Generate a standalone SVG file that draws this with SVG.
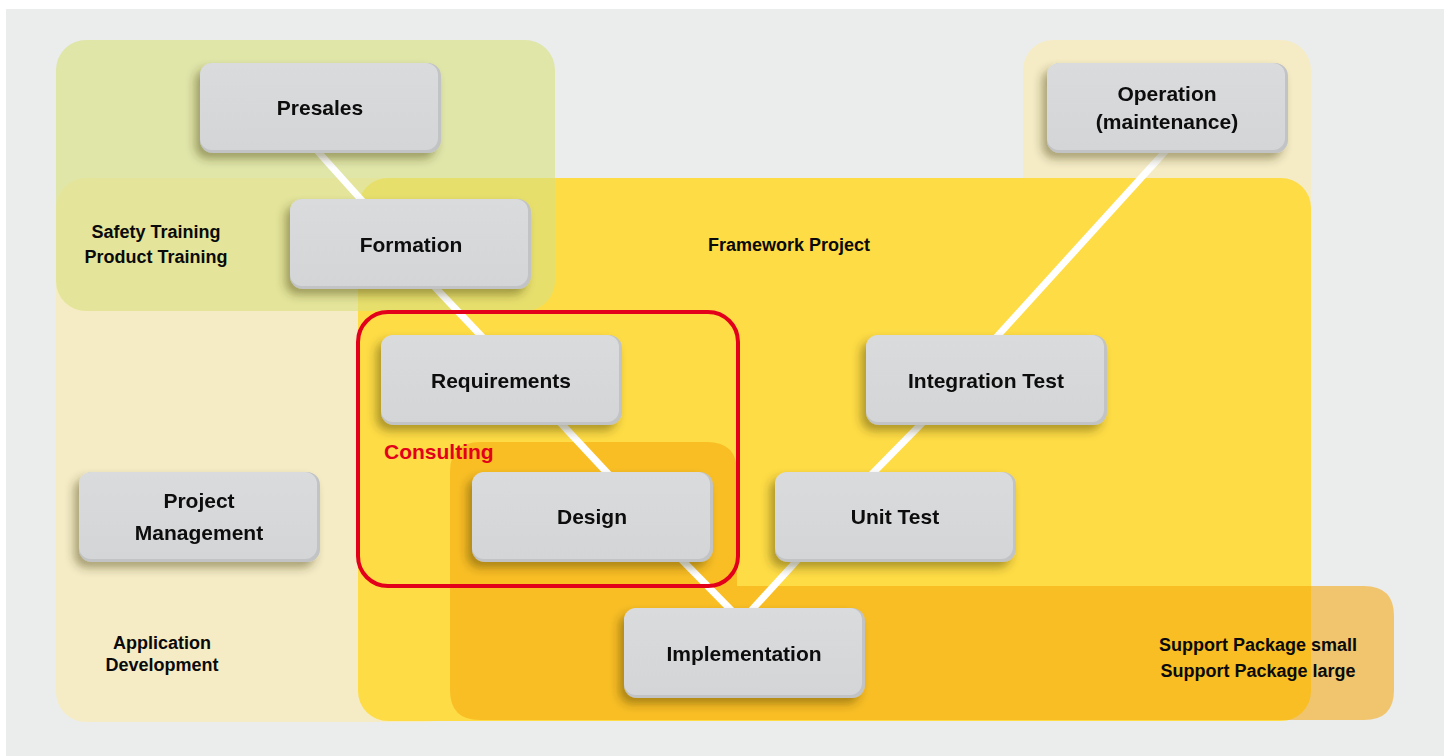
<svg xmlns="http://www.w3.org/2000/svg" width="1449" height="756" viewBox="0 0 1449 756">
<defs>
<filter id="sh" x="-20%" y="-20%" width="140%" height="150%">
<feDropShadow dx="-5" dy="6" stdDeviation="5" flood-color="#3a3000" flood-opacity="0.4"/>
</filter>
<linearGradient id="ng" x1="0" y1="0" x2="0" y2="1">
<stop offset="0" stop-color="#DADBDD"/>
<stop offset="1" stop-color="#D4D5D7"/>
</linearGradient>
<style>
.nb{fill:#C2C3C5;}
.nf{fill:url(#ng);}
.nt{font-family:"Liberation Sans",Arial,sans-serif;font-weight:bold;font-size:21px;fill:#0A0A0A;text-anchor:middle;}
.lt{font-family:"Liberation Sans",Arial,sans-serif;font-weight:bold;font-size:18px;fill:#0A0A0A;text-anchor:middle;}
.con{stroke:#FFFFFF;stroke-width:7;fill:none;}
</style>
</defs>
<rect x="0" y="0" width="1449" height="756" fill="#FFFFFF"/>
<rect x="6" y="9" width="1438" height="747" fill="#EBEDEC"/>

<g id="region-appdev">
<rect x="56" y="178" width="400" height="544" rx="30" fill="#F5ECC5"/>
</g>
<g id="region-operation">
<rect x="1023" y="40" width="288" height="300" rx="30" fill="#F5ECC5"/>
</g>
<g id="region-framework">
<rect x="358" y="178" width="953" height="543" rx="30" fill="#FEDC45"/>
</g>
<g id="region-support">
<path d="M480,442 H707 Q737,442 737,472 V586 H1364 Q1394,586 1394,616 V690 Q1394,720 1364,720 H480 Q450,720 450,690 V472 Q450,442 480,442 Z" fill="rgb(244,166,11)" fill-opacity="0.56"/>
</g>
<g id="region-training">
<rect x="56" y="40" width="499" height="271" rx="30" fill="rgb(218,225,130)" fill-opacity="0.64"/>
</g>

<g id="connectors">
<line class="con" x1="312" y1="145" x2="366" y2="205"/>
<line class="con" x1="430" y1="282" x2="487" y2="342"/>
<line class="con" x1="556" y1="418" x2="612" y2="478"/>
<line class="con" x1="677" y1="555" x2="735" y2="614"/>
<line class="con" x1="748" y1="614" x2="802" y2="555"/>
<line class="con" x1="868" y1="478" x2="926" y2="419"/>
<line class="con" x1="992" y1="342" x2="1171" y2="145"/>
</g>

<g id="consulting">
<rect x="358" y="312" width="380" height="274" rx="30" fill="none" stroke="#E3001B" stroke-width="4"/>
<text x="384" y="459" font-family="Liberation Sans, Arial, sans-serif" font-weight="bold" font-size="21" fill="#E3001B">Consulting</text>
</g>

<g id="node-presales" filter="url(#sh)">
<rect class="nb" x="200" y="63" width="241" height="90" rx="13"/>
<rect class="nf" x="200" y="63" width="238" height="87" rx="12"/>
<text class="nt" x="320" y="115">Presales</text>
</g>
<g id="node-formation" filter="url(#sh)">
<rect class="nb" x="290" y="199" width="241" height="90" rx="13"/>
<rect class="nf" x="290" y="199" width="238" height="87" rx="12"/>
<text class="nt" x="411" y="252">Formation</text>
</g>
<g id="node-requirements" filter="url(#sh)">
<rect class="nb" x="381" y="335" width="241" height="90" rx="13"/>
<rect class="nf" x="381" y="335" width="238" height="87" rx="12"/>
<text class="nt" x="501" y="388">Requirements</text>
</g>
<g id="node-design" filter="url(#sh)">
<rect class="nb" x="472" y="472" width="241" height="90" rx="13"/>
<rect class="nf" x="472" y="472" width="238" height="87" rx="12"/>
<text class="nt" x="592" y="524">Design</text>
</g>
<g id="node-implementation" filter="url(#sh)">
<rect class="nb" x="624" y="608" width="241" height="90" rx="13"/>
<rect class="nf" x="624" y="608" width="238" height="87" rx="12"/>
<text class="nt" x="744" y="661">Implementation</text>
</g>
<g id="node-unittest" filter="url(#sh)">
<rect class="nb" x="775" y="472" width="241" height="90" rx="13"/>
<rect class="nf" x="775" y="472" width="238" height="87" rx="12"/>
<text class="nt" x="895" y="524">Unit Test</text>
</g>
<g id="node-integrationtest" filter="url(#sh)">
<rect class="nb" x="866" y="335" width="241" height="90" rx="13"/>
<rect class="nf" x="866" y="335" width="238" height="87" rx="12"/>
<text class="nt" x="986" y="388">Integration Test</text>
</g>
<g id="node-operation" filter="url(#sh)">
<rect class="nb" x="1047" y="63" width="241" height="90" rx="13"/>
<rect class="nf" x="1047" y="63" width="238" height="87" rx="12"/>
<text class="nt" x="1167" y="101">Operation</text>
<text class="nt" x="1167" y="129">(maintenance)</text>
</g>
<g id="node-projectmanagement" filter="url(#sh)">
<rect class="nb" x="79" y="472" width="241" height="90" rx="13"/>
<rect class="nf" x="79" y="472" width="238" height="87" rx="12"/>
<text class="nt" x="199" y="508">Project</text>
<text class="nt" x="199" y="540">Management</text>
</g>

<g id="labels">
<text class="lt" x="156" y="238">Safety Training</text>
<text class="lt" x="156" y="263">Product Training</text>
<text class="lt" x="789" y="251">Framework Project</text>
<text class="lt" x="162" y="649">Application</text>
<text class="lt" x="162" y="671">Development</text>
<text class="lt" x="1258" y="651">Support Package small</text>
<text class="lt" x="1258" y="677">Support Package large</text>
</g>
</svg>
